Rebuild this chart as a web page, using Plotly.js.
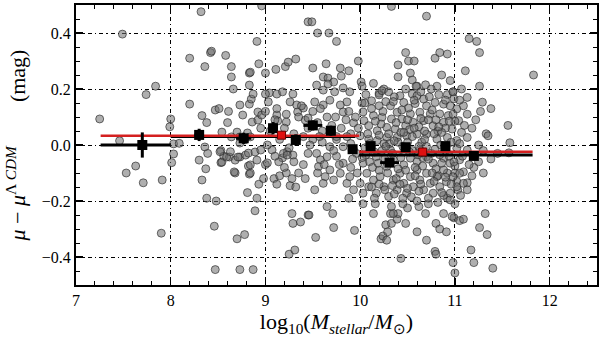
<!DOCTYPE html>
<html><head><meta charset="utf-8">
<script src="https://cdn.plot.ly/plotly-3.0.1.min.js"></script>
<style>html,body{margin:0;padding:0;background:#fff}#plot{width:600px;height:343px}
#plot .xtick text,#plot .ytick text{font-family:'Liberation Serif',serif !important;}</style>
</head><body><div id="plot"></div>
<script>
// Individual galaxies: [log10 M_stellar, mu - mu_LCDM]
const sparsePts = [
[7.25,0.093],[7.49,0.396],[7.74,0.18],[7.84,0.21],[7.46,0.015],[7.53,-0.10],[7.63,-0.075],[7.71,-0.135],[7.91,-0.125],[7.90,-0.315],[7.99,0.065],[8.0,0.093],
[8.03,0.004],[8.09,0.006],[8.03,-0.032],[8.01,-0.063],[8.32,0.476],[8.20,0.31],[8.36,0.28],[8.42,0.33],[8.43,0.335],[8.58,0.32],[8.20,0.146],[8.33,0.105],[8.38,0.08],[8.47,0.125],[8.51,0.13],[8.61,0.12],[8.60,0.08],[8.64,0.28],[8.64,0.243],[8.66,0.20],[8.73,0.143],[8.76,0.107],[8.83,0.146],[8.85,0.164],[8.87,0.182],[8.83,0.214],[8.83,0.257],[8.91,0.37],[8.93,0.29],[8.96,0.497],
[8.30,-0.054],[8.37,-0.085],[8.33,-0.125],[8.36,-0.007],[8.39,-0.03],[8.53,-0.02],[8.38,-0.19],[8.48,-0.20],[8.46,-0.29],[8.70,-0.335],[8.78,-0.32],[8.47,-0.445],[8.73,-0.445],[8.87,-0.445],[8.68,-0.10],[8.83,-0.104],[8.81,-0.17],[8.91,-0.19],[8.89,-0.235],[8.93,-0.14],[8.98,-0.12],
[8.53,-0.063],[8.56,-0.04],[8.62,-0.043],[8.68,-0.054],[8.73,-0.043],[8.79,-0.036],[8.82,-0.029],[8.89,-0.025],[8.95,-0.018],[8.84,-0.10],[8.82,-0.075],[9.0,-0.07],
[8.54,0.046],[8.64,0.029],[8.86,0.082],[8.92,0.089],[8.92,0.118],[8.96,0.107],[9.04,0.186],[9.0,0.182],[9.12,0.182],[9.18,0.19],[9.29,0.182],[9.03,0.154],[9.12,0.107],[9.22,0.082],[9.13,0.086],
[8.70,0.046],[8.81,0.043],[8.73,0.029],[8.84,0.029],[9.26,0.154],[9.33,0.143],[9.34,0.118],[9.40,0.132],[9.42,0.089],[9.45,0.096],
[9.11,0.27],[9.21,0.28],[9.24,0.296],[9.32,0.307],[9.0,0.257],[9.45,0.44],[8.84,0.26],
[8.52,-0.024],[8.54,-0.061],[8.59,-0.043],[8.63,-0.024],[8.71,-0.043],[8.73,0.007],[8.78,0.018],[8.84,-0.071],[8.91,-0.054],[9.02,-0.064],[9.07,-0.018],[9.18,-0.046],[9.23,-0.024],[9.29,-0.036],[8.67,-0.096],
[9.09,-0.12],[9.12,-0.14],[9.26,-0.145],[9.32,-0.15],[9.28,-0.245],[9.29,-0.28],[9.37,-0.275],[9.45,-0.25],[9.25,-0.39],[9.31,-0.375],
[9.14,-0.06],[9.19,-0.03],[9.23,-0.036],[9.15,-0.11],[9.22,-0.1],[9.28,-0.12],
[9.49,0.44],[9.55,0.40],[9.67,0.40],[9.75,0.37],[10.33,0.495],[10.70,0.46],[11.15,0.38],[11.23,0.37],[11.26,0.33],[11.83,0.25],
[10.48,0.33],[10.51,0.30],[10.57,0.30],[10.40,0.286],[10.40,0.243],[10.53,0.257],[10.55,0.232],[10.60,0.21],[10.69,0.215],[10.81,0.21],[10.79,0.31],[10.84,0.33],[10.92,0.325],[10.86,0.25],[10.95,0.23],[11.07,0.20],[11.11,0.265],[10.92,0.18],[10.98,0.19],[11.13,0.17],[11.26,0.21],[11.29,0.153],[11.38,0.13],[11.27,0.12],
[11.56,0.07],[11.58,0.008],[11.57,-0.028],[11.33,0.04],[11.35,0.033],
[9.50,0.275],[9.64,0.29],[9.79,0.275],[9.88,0.265],[9.80,0.246],[9.98,0.30],[10.01,0.225],[10.02,0.21],[10.14,0.22],[10.20,0.185],[10.25,0.2],[10.59,0.21],[10.98,0.19],
[9.61,0.243],[9.66,0.239],[9.72,0.225],[9.66,0.218],[9.73,0.19],[9.82,0.204],[9.54,0.214],[9.61,0.196],[9.86,0.154],[9.89,0.19],[9.52,0.154],[9.61,0.143],[9.79,0.143],[9.82,0.118],[9.93,0.079],[10.03,0.118],[10.02,0.15],
[9.53,-0.33],[9.72,-0.295],[9.94,-0.305],[9.46,-0.25],[9.71,-0.245],[9.65,-0.22],[9.88,-0.19],[10.03,-0.21],[10.14,-0.245],[10.16,-0.21],[9.52,-0.16],
[10.22,-0.335],[10.24,-0.325],[10.28,-0.34],[10.27,-0.285],[10.33,-0.28],[10.29,-0.31],[10.39,-0.265],[10.48,-0.28],[10.32,-0.245],[10.40,-0.245],[10.50,-0.225],[10.62,-0.22],[10.69,-0.245],[10.60,-0.31],[10.70,-0.34],
[10.80,-0.28],[10.84,-0.30],[10.91,-0.31],[10.99,-0.26],[11.05,-0.27],[11.09,-0.265],[10.88,-0.245],[10.97,-0.255],[11.32,-0.245],[11.26,-0.295],[11.34,-0.32],[10.82,-0.205],[10.92,-0.19],[11.0,-0.21],
[10.43,-0.405],[10.79,-0.38],[10.80,-0.39],[10.98,-0.42],[11.0,-0.457],[11.17,-0.375],[11.2,-0.42],[11.40,-0.44],
[10.33,-0.22],[10.35,-0.245],[10.45,-0.21],[10.72,-0.21],[10.88,-0.18],[10.95,-0.196],[11.03,-0.16],
[10.82,-0.11],[10.92,-0.1],[11.0,-0.1],[11.09,-0.096],[11.02,-0.13],[11.13,-0.135],[11.25,-0.06],[11.3,-0.1],[11.2,-0.08],[11.18,0.06],[11.25,0.0],[11.22,0.09],[11.3,-0.02],[11.38,-0.05],[11.45,-0.03]
];
const densePts = [
[10.05,0.15],[10.12,0.158],[10.20,0.179],[10.23,0.194],[10.32,0.14],[10.39,0.117],[10.46,0.152],[10.42,0.176],[10.55,0.182],[10.60,0.176],[10.67,0.164],[10.70,0.14],[10.79,0.152],[10.88,0.146],[10.95,0.14],[11.02,0.129],[11.09,0.14],[11.13,0.11],
[11.04,0.087],[10.93,0.105],[10.84,0.111],[10.74,0.111],[10.63,0.117],[10.53,0.111],[10.44,0.093],[10.33,0.093],[10.23,0.099],[10.14,0.105],[10.04,0.087],[10.09,0.069],[10.18,0.051],[10.28,0.063],[10.37,0.057],[10.48,0.069],[10.56,0.081],[10.67,0.087],[10.77,0.069],[10.88,0.081],[10.97,0.057],[11.07,0.045],[11.13,0.027],[11.02,0.016],[10.92,0.027],[10.81,0.021],[10.70,0.039],[10.60,0.039],[10.49,0.033],[10.39,0.027],[10.28,0.027],[10.18,0.016],[10.09,0.021],[10.0,0.033],
[9.54,-0.03],[9.58,-0.053],[9.56,-0.077],[9.65,-0.042],[9.68,-0.089],[9.63,-0.113],[9.72,-0.125],[9.61,-0.137],[9.79,-0.101],[9.82,-0.065],[9.86,-0.137],[9.89,-0.113],[9.93,-0.16],[10.0,-0.137],[10.03,-0.172],[10.07,-0.101],[10.09,-0.149],[10.14,-0.125],[10.17,-0.172],[10.21,-0.113],[10.25,-0.149],[10.30,-0.184],[10.35,-0.125],[10.39,-0.16],[10.42,-0.101],[10.46,-0.137],[10.49,-0.172],[10.53,-0.113],[10.56,-0.149],[10.60,-0.089],[10.63,-0.125],[10.67,-0.16],[10.70,-0.101],[10.74,-0.137],[10.77,-0.172],[10.81,-0.113],[10.84,-0.149],[10.88,-0.089],[10.91,-0.131],[10.95,-0.172],[10.98,-0.113],[11.02,-0.149],[11.05,-0.101],[11.09,-0.137],[11.13,-0.16],
[9.82,-0.006],[9.96,-0.03],[10.17,-0.042],[10.35,-0.053],[10.53,-0.047],[10.70,-0.042],[10.88,-0.047],[11.05,-0.053],[11.13,-0.018],[9.68,-0.006],[10.03,-0.065],[10.28,-0.077],[10.46,-0.071],[10.60,-0.059],[10.77,-0.065],[10.95,-0.065],[10.32,-0.018],[10.63,-0.018],[11.02,-0.012],
[9.6,0.01],[9.75,0.02],[10.05,-0.01],[10.25,0.005],[10.45,-0.005],[10.65,0.01],[10.85,0.0],[11.05,0.005],[10.4,0.01],[10.55,-0.02],[10.75,-0.03],[10.15,-0.025],[9.9,0.005],
[9.05,0.05],[9.1,0.09],[9.15,0.02],[9.2,0.06],[9.25,-0.01],[9.3,0.04],[9.35,0.1],[9.4,0.03],[9.45,-0.03],[9.1,-0.04],[9.2,-0.08],[9.3,-0.06],[9.35,-0.1],[9.4,-0.07],[9.45,0.06],[9.5,0.12],[9.55,0.08],[9.5,0.02],[9.6,0.05],[9.65,0.1],[9.7,0.07],[9.75,0.03],[9.8,0.06],[9.85,0.09],[9.9,0.04],[9.95,0.1],[9.92,-0.05],[9.75,-0.04],[9.55,-0.1],[9.0,0.12],[8.95,0.06],[9.02,0.0],[9.12,0.13],[9.38,0.14],[9.22,0.11],
[10.12,0.13],[10.27,0.155],[10.36,0.172],[10.51,0.132],[10.58,0.148],[10.73,0.172],[10.83,0.18],[10.99,0.165],[10.22,0.075],[10.43,0.045],[10.52,0.055],[10.62,0.065],[10.72,0.09],[10.82,0.05],[10.9,0.06],[11.0,0.085],[10.31,0.005],[10.5,0.01],[10.7,-0.005],[10.9,-0.02],[10.1,-0.06],[10.2,-0.09],[10.4,-0.085],[10.58,-0.08],[10.8,-0.085],[11.0,-0.075],[10.26,-0.05],[10.66,-0.045],[10.84,-0.035],[10.12,-0.15],[10.36,-0.175],[10.54,-0.185],[10.72,-0.19],[10.6,-0.2],[10.45,-0.19]
];
// Extra members of the crowded core (about 10-11 in mass)
const corePts = [
[10.08,0.04],[10.16,0.085],[10.24,0.12],[10.3,0.04],[10.38,0.08],[10.44,0.125],[10.5,0.09],[10.57,0.06],[10.64,0.095],[10.68,0.05],[10.76,0.125],[10.8,0.09],[10.86,0.045],[10.94,0.085],[10.98,0.11],
[10.06,-0.035],[10.13,-0.08],[10.19,-0.065],[10.23,-0.02],[10.29,-0.1],[10.34,-0.03],[10.38,-0.12],[10.43,-0.045],[10.48,-0.09],[10.52,-0.025],[10.58,-0.11],[10.61,-0.035],[10.66,-0.075],[10.72,-0.05],[10.76,-0.1],[10.79,-0.015],[10.86,-0.065],[10.9,-0.115],[10.94,-0.04],[10.99,-0.06],
[10.1,0.005],[10.2,0.035],[10.27,-0.005],[10.36,0.015],[10.46,0.045],[10.55,0.03],[10.62,-0.005],[10.68,0.02],[10.78,0.04],[10.83,0.065],[10.96,0.01],[11.08,-0.04],[11.1,0.07],[11.15,-0.07],[11.18,-0.11],
[9.9,-0.08],[9.97,-0.1],[9.98,0.06],[10.02,-0.045],[9.86,0.03],[9.78,-0.07],[9.72,-0.02],[9.7,0.04],[9.62,-0.07],[9.57,0.03],[9.47,0.0],[9.42,-0.12],[9.58,0.13],[9.68,0.16],[9.74,0.1],[9.88,0.12],
[10.15,-0.19],[10.26,-0.16],[10.34,-0.145],[10.5,-0.155],[10.64,-0.14],[10.78,-0.13],[10.86,-0.17],[10.96,-0.14],[11.06,-0.18],[10.42,-0.14],[10.62,-0.165],[10.2,-0.14],
[10.06,0.18],[10.3,0.19],[10.48,0.2],[10.64,0.19],[10.75,0.2],[10.9,0.16],[11.05,0.16],[10.35,0.155],[10.2,0.14],[10.57,0.16]
];
// Binned means (black squares) with errors
const binX = [7.70, 8.30, 8.77, 9.08, 9.32, 9.50, 9.69, 9.92, 10.11, 10.31, 10.48, 10.90, 11.20];
const binY = [0.0, 0.036, 0.024, 0.06, 0.018, 0.07, 0.051, -0.015, -0.004, -0.063, -0.008, -0.004, -0.039];
const binYerr = [0.045, 0.022, 0.02, 0.022, 0.02, 0.018, 0.018, 0.015, 0.015, 0.015, 0.015, 0.015, 0.015];
const binXerr = [0, 0.05, 0.08, 0.05, 0.05, 0.1, 0.05, 0.05, 0.05, 0.1, 0.05, 0.05, 0.05];
// Red square markers
const redX = [9.17, 10.66];
const redY = [0.035, -0.025];
// Step fits
const blackFitX = [[7.26, 8.0], [8.0, 9.95], [9.99, 11.82]];
const blackFitY = [0.0, 0.03, -0.036];
const redFitX = [[7.26, 9.99], [9.99, 11.82]];
const redFitY = [0.033, -0.024];

const allPts = sparsePts.concat(densePts, corePts);
const traces = [];
traces.push({
  type: 'scatter', mode: 'markers',
  x: allPts.map(p => p[0]), y: allPts.map(p => p[1]),
  marker: {size: 8, color: 'rgba(110,110,110,0.55)', line: {color: 'rgba(40,40,40,0.65)', width: 1}},
  hoverinfo: 'skip'
});
blackFitX.forEach((seg, i) => traces.push({
  type: 'scatter', mode: 'lines', x: seg, y: [blackFitY[i], blackFitY[i]],
  line: {color: '#000', width: 3}
}));
redFitX.forEach((seg, i) => traces.push({
  type: 'scatter', mode: 'lines', x: seg, y: [redFitY[i], redFitY[i]],
  line: {color: '#d42020', width: 2.5}
}));
traces.push({
  type: 'scatter', mode: 'markers', x: binX, y: binY,
  error_y: {type: 'data', array: binYerr, color: '#000', thickness: 3, width: 0},
  error_x: {type: 'data', array: binXerr, color: '#000', thickness: 3, width: 0},
  marker: {symbol: 'square', size: 10, color: '#000'}
});
traces.push({
  type: 'scatter', mode: 'markers', x: redX, y: redY,
  marker: {symbol: 'square', size: 8, color: '#e01010', line: {color: '#600', width: 1}}
});

const font = 'Liberation Serif';
const gridDash = '4px,3px,1.5px,3px';
const layout = {
  width: 600, height: 343,
  margin: {l: 76, r: 3, t: 5, b: 58},
  paper_bgcolor: '#fff', plot_bgcolor: '#fff',
  showlegend: false,
  font: {family: font, color: '#000', size: 14},
  xaxis: {
    range: [7, 12.5], dtick: 1, tick0: 7,
    ticks: 'inside', ticklen: 7, tickwidth: 1.5, tickcolor: '#000',
    minor: {dtick: 0.2, ticks: 'inside', ticklen: 4, tickcolor: '#000', tickwidth: 1},
    showline: true, linecolor: '#000', linewidth: 2, mirror: 'ticks',
    showgrid: true, gridcolor: '#000', gridwidth: 1, griddash: gridDash,
    zeroline: false,
    tickfont: {family: font, size: 16, color: '#000'},
    title: {text: 'log<sub>10</sub>(<i>M<sub>stellar</sub></i>/<i>M</i><sub>⊙</sub>)', font: {family: font, size: 22, color: '#000'}, standoff: 4}
  },
  yaxis: {
    range: [-0.5, 0.5], dtick: 0.2, tick0: 0, tickformat: '.1f',
    ticks: 'inside', ticklen: 7, tickwidth: 1.5, tickcolor: '#000',
    minor: {dtick: 0.05, ticks: 'inside', ticklen: 4, tickcolor: '#000', tickwidth: 1},
    showline: true, linecolor: '#000', linewidth: 2, mirror: 'ticks',
    showgrid: true, gridcolor: '#000', gridwidth: 1, griddash: gridDash,
    zeroline: false,
    tickfont: {family: font, size: 16, color: '#000'},
    title: {text: '<i>μ</i> − <i>μ</i><sup>Λ <i>CDM</i></sup>\u2003\u2003(mag)', font: {family: font, size: 22, color: '#000'}, standoff: 10}
  }
};
Plotly.newPlot('plot', traces, layout, {displayModeBar: false, staticPlot: true});
</script></body></html>
